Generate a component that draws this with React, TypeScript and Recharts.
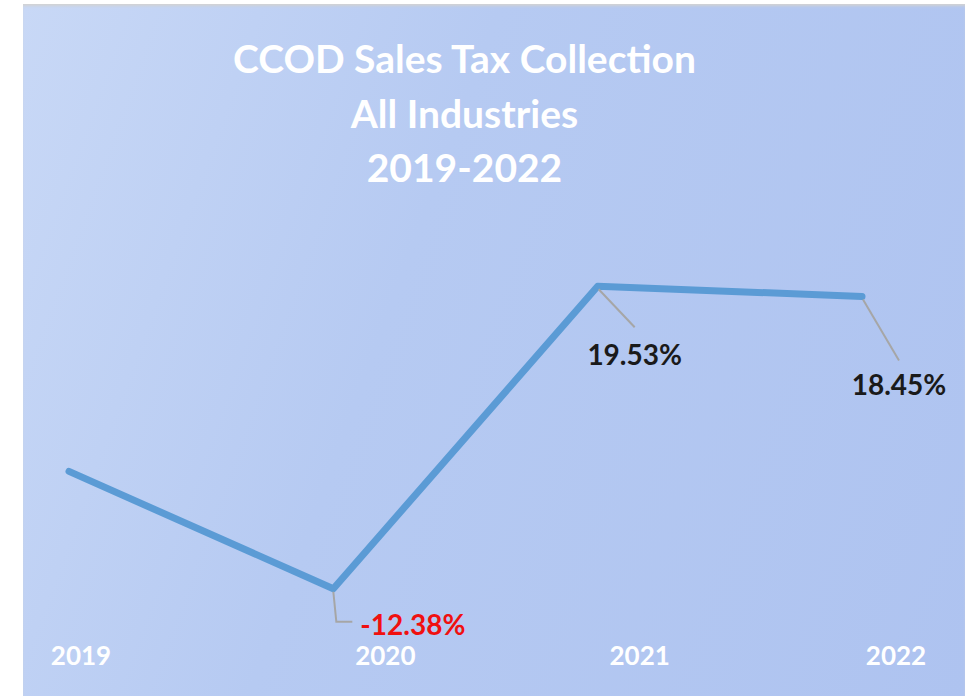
import React from 'react'
import { LineChart, Line, XAxis, YAxis } from 'recharts'

const YEARS = ['2019', '2020', '2021', '2022']
const CHANGE = [0, -12.38, 19.53, 18.45]
const LABELS = ['', '-12.38%', '19.53%', '18.45%']
const TITLE_LINES = ['CCOD Sales Tax Collection', 'All Industries', '2019-2022']

const data = YEARS.map((year, i) => ({ year, change: CHANGE[i], label: LABELS[i] }))

const FONT = 'Lato, "Open Sans", sans-serif'
const W = 942
const H = 692

// Excel puts the category labels a little to the right of each point
const TICK_SHIFT = [12, 52, 42, 34]

function YearTick(props: any) {
  const { x, y, payload, index } = props
  return (
    <text x={x + TICK_SHIFT[index]} y={y + 4} textAnchor="middle" fill="#ffffff" fontSize={26} fontWeight={700} fontFamily={FONT}>
      {payload.value}
    </text>
  )
}

function PointLabel(props: any) {
  const { x, y, index } = props
  const text = LABELS[index]
  if (!text) return null
  const leader = '#a6a6a6'
  if (CHANGE[index] < 0) {
    return (
      <g>
        <path d={`M${x},${y + 3} L${x + 3},${y + 33} L${x + 19},${y + 33}`} stroke={leader} strokeWidth={2} fill="none" />
        <text x={x + 27} y={y + 46} fill="#f01010" fontSize={28} fontWeight={700} fontFamily={FONT}>{text}</text>
      </g>
    )
  }
  const drop = index === 3 ? 64 : 41
  const base = index === 3 ? 99 : 79
  return (
    <g>
      <path d={`M${x + 1},${y + 3} L${x + 37},${y + drop}`} stroke={leader} strokeWidth={2} fill="none" />
      <text x={x + 37} y={y + base} textAnchor="middle" fill="#1a1a1a" fontSize={28} fontWeight={700} fontFamily={FONT}>{text}</text>
    </g>
  )
}

export default function App() {
  return (
    <div style={{ position: 'absolute', left: 0, top: 0, width: 972, height: 696, background: '#ffffff', overflow: 'hidden' }}>
      <div
        style={{
          position: 'absolute',
          left: 23,
          top: 4,
          width: W,
          height: H,
          background: 'linear-gradient(110deg, #c8d8f6 0%, #b6caf2 40%, #aec3f0 100%)',
          boxShadow: 'inset 0 3px 3px -1px #d2d2d2',
        }}
      >
        <LineChart width={W} height={H} data={data} margin={{ top: 183, right: 103, bottom: 0, left: 46 }}>
          <XAxis dataKey="year" scale="point" axisLine={false} tickLine={false} tickSize={0} tickMargin={0} height={35} tick={<YearTick />} interval={0} />
          <YAxis hide domain={[-20, 30]} />
          <Line
            type="linear"
            dataKey="change"
            stroke="#5b9bd5"
            strokeWidth={7}
            strokeLinecap="round"
            strokeLinejoin="round"
            dot={false}
            activeDot={false}
            isAnimationActive={false}
            label={<PointLabel />}
          />
        </LineChart>
        <svg width={W} height={H} style={{ position: 'absolute', left: 0, top: 0, pointerEvents: 'none' }}>
          {TITLE_LINES.map((t, i) => (
            <text key={t} x={441.5} y={69 + i * 54.5} textAnchor="middle" fill="#ffffff" fontSize={39} fontWeight={700} fontFamily={FONT}>
              {t}
            </text>
          ))}
        </svg>
      </div>
    </div>
  )
}
